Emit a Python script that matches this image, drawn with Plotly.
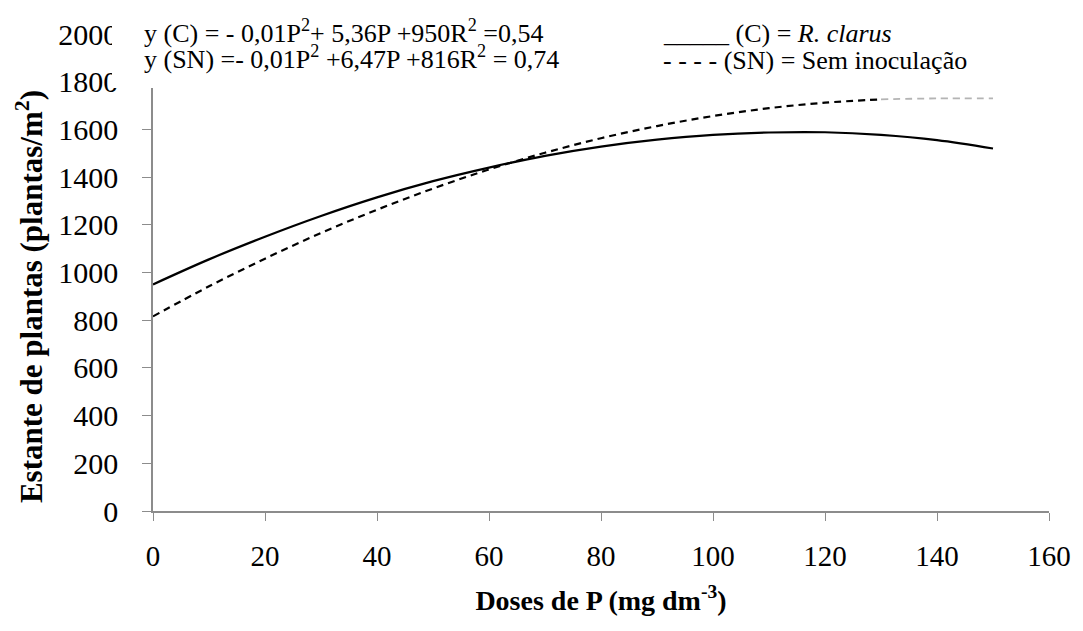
import plotly.graph_objects as go

dose = [0, 10, 20, 30, 40, 50, 60, 70, 80, 90, 100, 110, 120, 130, 140, 150]
c_vals = [950, 1055, 1150, 1237, 1315, 1383, 1440, 1489, 1528, 1557, 1577, 1587, 1588, 1577, 1555, 1520]
sn_vals = [816, 942, 1058, 1166, 1263, 1352, 1432, 1502, 1563, 1614, 1656, 1689, 1712, 1726, 1730, 1730]
y_ticks = [0, 200, 400, 600, 800, 1000, 1200, 1400, 1600, 1800, 2000]
x_ticks = [0, 20, 40, 60, 80, 100, 120, 140, 160]

FONT = "Liberation Serif"
AX = "#8c8c8c"

fig = go.Figure()
split = dose.index(130)
fig.add_trace(go.Scatter(x=dose, y=c_vals, mode="lines", name="C",
                         line=dict(color="black", width=2.2, shape="spline"), showlegend=False))
fig.add_trace(go.Scatter(x=dose[:split + 1], y=sn_vals[:split + 1], mode="lines", name="SN",
                         line=dict(color="black", width=2.2, dash="7px,5px", shape="spline"),
                         showlegend=False))
fig.add_trace(go.Scatter(x=dose[split:], y=sn_vals[split:], mode="lines", name="SN tail",
                         line=dict(color="#b4b4b4", width=1.8, dash="7px,5px", shape="spline"),
                         showlegend=False))

fig.update_layout(
    width=1083, height=631,
    margin=dict(l=153, r=30, t=34, b=120),
    paper_bgcolor="white", plot_bgcolor="white",
    font=dict(family=FONT, color="black", size=28),
    xaxis=dict(range=[0, 160], tickvals=x_ticks, ticks="outside", ticklen=8, tickcolor=AX,
               showline=True, linecolor=AX, linewidth=1.5, showgrid=False, zeroline=False,
               tickfont=dict(family=FONT, size=29), ticklabelstandoff=10,
               title=dict(text="<b>Doses de P (mg dm<sup>-3</sup>)</b>", standoff=20,
                          font=dict(family=FONT, size=28))),
    yaxis=dict(range=[0, 2000], tickvals=y_ticks, ticks="outside", ticklen=9, tickcolor=AX,
               showline=True, linecolor=AX, linewidth=1.5, showgrid=False, zeroline=False,
               tickfont=dict(family=FONT, size=30), ticklabelstandoff=18),
)

# y axis title (placed as in the original, slightly below the axis centre)
fig.add_annotation(xref="paper", yref="paper", x=-0.137, y=0.449, xanchor="center", yanchor="middle",
                   text="<b>Estante de plantas (plantas/m<sup>2</sup>)</b>", textangle=-90,
                   showarrow=False, font=dict(family=FONT, size=31, color="black"))

# white text box covering the top of the y axis (as in the original)
fig.add_annotation(xref="paper", yref="paper", x=-0.0456, y=1.06, xanchor="left", yanchor="top",
                   text=" ", width=448, height=83, bgcolor="white", borderpad=0, borderwidth=0,
                   showarrow=False)

fig.add_annotation(xref="paper", yref="paper", x=-0.0122, y=1.005, xanchor="left", yanchor="middle",
                   text="y (C) = - 0,01P<sup>2</sup>+ 5,36P +950R<sup>2</sup> =0,54",
                   showarrow=False, font=dict(family=FONT, size=26, color="black"))
fig.add_annotation(xref="paper", yref="paper", x=-0.0122, y=0.95, xanchor="left", yanchor="middle",
                   text="y (SN) =- 0,01P<sup>2</sup> +6,47P +816R<sup>2</sup> = 0,74",
                   showarrow=False, font=dict(family=FONT, size=26, color="black"))
fig.add_annotation(xref="paper", yref="paper", x=0.567, y=1.002, xanchor="left", yanchor="middle",
                   text="_____ (C) = <i>R. clarus</i>",
                   showarrow=False, font=dict(family=FONT, size=26, color="black"))
fig.add_annotation(xref="paper", yref="paper", x=0.567, y=0.945, xanchor="left", yanchor="middle",
                   text="- - - - (SN) = Sem inoculação",
                   showarrow=False, font=dict(family=FONT, size=26, color="black"))

fig.write_html("out.html")
